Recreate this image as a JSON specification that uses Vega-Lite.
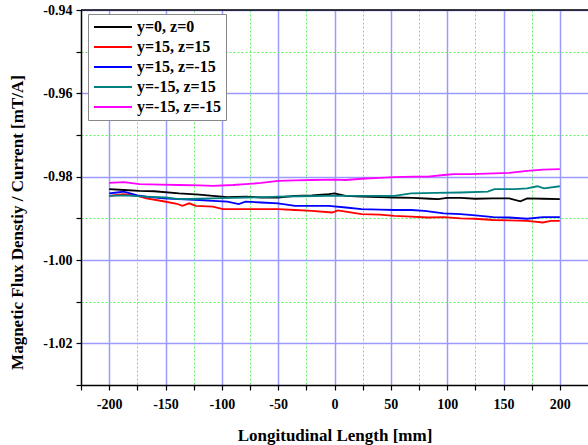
{
  "$schema": "https://vega.github.io/schema/vega-lite/v6.json",
  "width": 507,
  "height": 375,
  "autosize": {"type": "none"},
  "padding": {"left": 81, "top": 10, "right": 0, "bottom": 60},
  "background": "white",
  "config": {
    "view": {"stroke": null},
    "font": "Liberation Serif",
    "axis": {"labelFont": "Liberation Serif", "titleFont": "Liberation Serif"},
    "legend": {"labelFont": "Liberation Serif"}
  },
  "data": {"values": [
    {"s": "y=0, z=0", "x": -200, "v": -0.9830},
    {"s": "y=0, z=0", "x": -187, "v": -0.9832},
    {"s": "y=0, z=0", "x": -173, "v": -0.9834},
    {"s": "y=0, z=0", "x": -160, "v": -0.9835},
    {"s": "y=0, z=0", "x": -138, "v": -0.9840},
    {"s": "y=0, z=0", "x": -120, "v": -0.9843},
    {"s": "y=0, z=0", "x": -108, "v": -0.9846},
    {"s": "y=0, z=0", "x": -95, "v": -0.9849},
    {"s": "y=0, z=0", "x": -79, "v": -0.9848},
    {"s": "y=0, z=0", "x": -65, "v": -0.9850},
    {"s": "y=0, z=0", "x": -50, "v": -0.9850},
    {"s": "y=0, z=0", "x": -35, "v": -0.9846},
    {"s": "y=0, z=0", "x": -20, "v": -0.9845},
    {"s": "y=0, z=0", "x": -5, "v": -0.9842},
    {"s": "y=0, z=0", "x": 0, "v": -0.9840},
    {"s": "y=0, z=0", "x": 10, "v": -0.9846},
    {"s": "y=0, z=0", "x": 24, "v": -0.9848},
    {"s": "y=0, z=0", "x": 40, "v": -0.9849},
    {"s": "y=0, z=0", "x": 53, "v": -0.9850},
    {"s": "y=0, z=0", "x": 70, "v": -0.9851},
    {"s": "y=0, z=0", "x": 85, "v": -0.9853},
    {"s": "y=0, z=0", "x": 92, "v": -0.9854},
    {"s": "y=0, z=0", "x": 100, "v": -0.9851},
    {"s": "y=0, z=0", "x": 112, "v": -0.9851},
    {"s": "y=0, z=0", "x": 125, "v": -0.9853},
    {"s": "y=0, z=0", "x": 141, "v": -0.9852},
    {"s": "y=0, z=0", "x": 155, "v": -0.9852},
    {"s": "y=0, z=0", "x": 165, "v": -0.9859},
    {"s": "y=0, z=0", "x": 171, "v": -0.9852},
    {"s": "y=0, z=0", "x": 185, "v": -0.9853},
    {"s": "y=0, z=0", "x": 200, "v": -0.9854},

    {"s": "y=15, z=15", "x": -200, "v": -0.9846},
    {"s": "y=15, z=15", "x": -193, "v": -0.9844},
    {"s": "y=15, z=15", "x": -187, "v": -0.9842},
    {"s": "y=15, z=15", "x": -175, "v": -0.9846},
    {"s": "y=15, z=15", "x": -167, "v": -0.9852},
    {"s": "y=15, z=15", "x": -152, "v": -0.9859},
    {"s": "y=15, z=15", "x": -140, "v": -0.9865},
    {"s": "y=15, z=15", "x": -135, "v": -0.9870},
    {"s": "y=15, z=15", "x": -129, "v": -0.9864},
    {"s": "y=15, z=15", "x": -123, "v": -0.9870},
    {"s": "y=15, z=15", "x": -108, "v": -0.9872},
    {"s": "y=15, z=15", "x": -99, "v": -0.9878},
    {"s": "y=15, z=15", "x": -85, "v": -0.9878},
    {"s": "y=15, z=15", "x": -65, "v": -0.9878},
    {"s": "y=15, z=15", "x": -50, "v": -0.9878},
    {"s": "y=15, z=15", "x": -35, "v": -0.9880},
    {"s": "y=15, z=15", "x": -20, "v": -0.9882},
    {"s": "y=15, z=15", "x": -2, "v": -0.9886},
    {"s": "y=15, z=15", "x": 3, "v": -0.9881},
    {"s": "y=15, z=15", "x": 10, "v": -0.9884},
    {"s": "y=15, z=15", "x": 24, "v": -0.9890},
    {"s": "y=15, z=15", "x": 40, "v": -0.9891},
    {"s": "y=15, z=15", "x": 53, "v": -0.9894},
    {"s": "y=15, z=15", "x": 68, "v": -0.9896},
    {"s": "y=15, z=15", "x": 83, "v": -0.9898},
    {"s": "y=15, z=15", "x": 97, "v": -0.9897},
    {"s": "y=15, z=15", "x": 112, "v": -0.9900},
    {"s": "y=15, z=15", "x": 125, "v": -0.9901},
    {"s": "y=15, z=15", "x": 141, "v": -0.9904},
    {"s": "y=15, z=15", "x": 155, "v": -0.9905},
    {"s": "y=15, z=15", "x": 171, "v": -0.9906},
    {"s": "y=15, z=15", "x": 185, "v": -0.9910},
    {"s": "y=15, z=15", "x": 192, "v": -0.9906},
    {"s": "y=15, z=15", "x": 200, "v": -0.9906},

    {"s": "y=15, z=-15", "x": -200, "v": -0.9840},
    {"s": "y=15, z=-15", "x": -193, "v": -0.9838},
    {"s": "y=15, z=-15", "x": -187, "v": -0.9836},
    {"s": "y=15, z=-15", "x": -175, "v": -0.9845},
    {"s": "y=15, z=-15", "x": -167, "v": -0.9848},
    {"s": "y=15, z=-15", "x": -152, "v": -0.9852},
    {"s": "y=15, z=-15", "x": -138, "v": -0.9854},
    {"s": "y=15, z=-15", "x": -120, "v": -0.9856},
    {"s": "y=15, z=-15", "x": -108, "v": -0.9858},
    {"s": "y=15, z=-15", "x": -95, "v": -0.9860},
    {"s": "y=15, z=-15", "x": -85, "v": -0.9866},
    {"s": "y=15, z=-15", "x": -79, "v": -0.9860},
    {"s": "y=15, z=-15", "x": -65, "v": -0.9862},
    {"s": "y=15, z=-15", "x": -50, "v": -0.9864},
    {"s": "y=15, z=-15", "x": -35, "v": -0.9870},
    {"s": "y=15, z=-15", "x": -20, "v": -0.9870},
    {"s": "y=15, z=-15", "x": -5, "v": -0.9870},
    {"s": "y=15, z=-15", "x": 10, "v": -0.9874},
    {"s": "y=15, z=-15", "x": 24, "v": -0.9878},
    {"s": "y=15, z=-15", "x": 40, "v": -0.9879},
    {"s": "y=15, z=-15", "x": 53, "v": -0.9880},
    {"s": "y=15, z=-15", "x": 68, "v": -0.9880},
    {"s": "y=15, z=-15", "x": 80, "v": -0.9882},
    {"s": "y=15, z=-15", "x": 97, "v": -0.9888},
    {"s": "y=15, z=-15", "x": 112, "v": -0.9890},
    {"s": "y=15, z=-15", "x": 125, "v": -0.9893},
    {"s": "y=15, z=-15", "x": 141, "v": -0.9897},
    {"s": "y=15, z=-15", "x": 155, "v": -0.9898},
    {"s": "y=15, z=-15", "x": 171, "v": -0.9901},
    {"s": "y=15, z=-15", "x": 185, "v": -0.9897},
    {"s": "y=15, z=-15", "x": 200, "v": -0.9897},

    {"s": "y=-15, z=15", "x": -200, "v": -0.9846},
    {"s": "y=-15, z=15", "x": -187, "v": -0.9845},
    {"s": "y=-15, z=15", "x": -167, "v": -0.9848},
    {"s": "y=-15, z=15", "x": -150, "v": -0.9850},
    {"s": "y=-15, z=15", "x": -138, "v": -0.9854},
    {"s": "y=-15, z=15", "x": -120, "v": -0.9853},
    {"s": "y=-15, z=15", "x": -108, "v": -0.9852},
    {"s": "y=-15, z=15", "x": -90, "v": -0.9851},
    {"s": "y=-15, z=15", "x": -79, "v": -0.9850},
    {"s": "y=-15, z=15", "x": -60, "v": -0.9849},
    {"s": "y=-15, z=15", "x": -50, "v": -0.9848},
    {"s": "y=-15, z=15", "x": -30, "v": -0.9847},
    {"s": "y=-15, z=15", "x": -5, "v": -0.9846},
    {"s": "y=-15, z=15", "x": 24, "v": -0.9846},
    {"s": "y=-15, z=15", "x": 53, "v": -0.9846},
    {"s": "y=-15, z=15", "x": 68, "v": -0.9840},
    {"s": "y=-15, z=15", "x": 90, "v": -0.9839},
    {"s": "y=-15, z=15", "x": 112, "v": -0.9838},
    {"s": "y=-15, z=15", "x": 136, "v": -0.9836},
    {"s": "y=-15, z=15", "x": 142, "v": -0.9830},
    {"s": "y=-15, z=15", "x": 160, "v": -0.9830},
    {"s": "y=-15, z=15", "x": 171, "v": -0.9828},
    {"s": "y=-15, z=15", "x": 180, "v": -0.9823},
    {"s": "y=-15, z=15", "x": 186, "v": -0.9828},
    {"s": "y=-15, z=15", "x": 200, "v": -0.9823},

    {"s": "y=-15, z=-15", "x": -200, "v": -0.9815},
    {"s": "y=-15, z=-15", "x": -187, "v": -0.9813},
    {"s": "y=-15, z=-15", "x": -173, "v": -0.9818},
    {"s": "y=-15, z=-15", "x": -155, "v": -0.9819},
    {"s": "y=-15, z=-15", "x": -138, "v": -0.9820},
    {"s": "y=-15, z=-15", "x": -120, "v": -0.9821},
    {"s": "y=-15, z=-15", "x": -108, "v": -0.9822},
    {"s": "y=-15, z=-15", "x": -90, "v": -0.9820},
    {"s": "y=-15, z=-15", "x": -79, "v": -0.9818},
    {"s": "y=-15, z=-15", "x": -65, "v": -0.9815},
    {"s": "y=-15, z=-15", "x": -50, "v": -0.9810},
    {"s": "y=-15, z=-15", "x": -35, "v": -0.9809},
    {"s": "y=-15, z=-15", "x": -20, "v": -0.9808},
    {"s": "y=-15, z=-15", "x": 0, "v": -0.9807},
    {"s": "y=-15, z=-15", "x": 10, "v": -0.9808},
    {"s": "y=-15, z=-15", "x": 24, "v": -0.9805},
    {"s": "y=-15, z=-15", "x": 40, "v": -0.9803},
    {"s": "y=-15, z=-15", "x": 53, "v": -0.9801},
    {"s": "y=-15, z=-15", "x": 70, "v": -0.9800},
    {"s": "y=-15, z=-15", "x": 83, "v": -0.9800},
    {"s": "y=-15, z=-15", "x": 97, "v": -0.9796},
    {"s": "y=-15, z=-15", "x": 106, "v": -0.9794},
    {"s": "y=-15, z=-15", "x": 120, "v": -0.9794},
    {"s": "y=-15, z=-15", "x": 142, "v": -0.9792},
    {"s": "y=-15, z=-15", "x": 155, "v": -0.9791},
    {"s": "y=-15, z=-15", "x": 171, "v": -0.9786},
    {"s": "y=-15, z=-15", "x": 185, "v": -0.9783},
    {"s": "y=-15, z=-15", "x": 200, "v": -0.9782}
  ]},
  "layer": [
    {
      "mark": {"type": "line", "strokeWidth": 1.8},
      "encoding": {
        "x": {
          "field": "x", "type": "quantitative",
          "scale": {"domain": [-225, 225], "nice": false, "zero": false},
          "axis": {
            "values": [-225, -200, -175, -150, -125, -100, -75, -50, -25, 0, 25, 50, 75, 100, 125, 150, 175, 200],
            "title": "Longitudinal Length [mm]",
            "labelExpr": "datum.value % 50 === 0 ? replace(format(datum.value, 'd'), '\u2212', '-') : ''",
            "grid": true,
            "gridColor": {"condition": {"test": "datum.value % 50 === 0", "value": "#9a9aff"}, "value": "#66ee66"},
            "gridDash": {"condition": {"test": "datum.value % 50 === 0", "value": []}, "value": [2, 2]},
            "gridWidth": {"condition": {"test": "datum.value % 50 === 0", "value": 1.5}, "value": 1},
            "domainColor": "black", "domainWidth": 1.5,
            "tickColor": "black", "tickSize": 5, "tickWidth": 1.2,
            "labelFont": "Liberation Serif", "labelFontWeight": "bold", "labelFontSize": 14, "labelColor": "black",
            "labelPadding": 7, "labelFlush": false,
            "titleFont": "Liberation Serif", "titleFontWeight": "bold", "titleFontSize": 17, "titleColor": "black",
            "titleY": 50, "titleBaseline": "middle"
          }
        },
        "y": {
          "field": "v", "type": "quantitative",
          "scale": {"domain": [-1.03, -0.94], "nice": false, "zero": false},
          "axis": {
            "values": [-1.03, -1.02, -1.01, -1.0, -0.99, -0.98, -0.97, -0.96, -0.95, -0.94],
            "title": "Magnetic Flux Denstiy / Current [mT/A]",
            "labelExpr": "round(datum.value * 100) % 2 === 0 ? replace(format(datum.value, '.2f'), '\u2212', '-') : ''",
            "grid": true,
            "gridColor": {"condition": {"test": "round(datum.value * 100) % 2 === 0", "value": "#9a9aff"}, "value": "#66ee66"},
            "gridDash": {"condition": {"test": "round(datum.value * 100) % 2 === 0", "value": []}, "value": [2, 2]},
            "gridWidth": {"condition": {"test": "round(datum.value * 100) % 2 === 0", "value": 1.5}, "value": 1},
            "domainColor": "black", "domainWidth": 1.5,
            "tickColor": "black", "tickSize": 5, "tickWidth": 1.2,
            "labelFont": "Liberation Serif", "labelFontWeight": "bold", "labelFontSize": 14, "labelColor": "black",
            "labelPadding": 4, "labelFlush": false,
            "titleFont": "Liberation Serif", "titleFontWeight": "bold", "titleFontSize": 17, "titleColor": "black",
            "titleX": -64, "titleY": 212, "titleAngle": -90, "titleAlign": "center", "titleBaseline": "middle"
          }
        },
        "color": {
          "field": "s", "type": "nominal",
          "scale": {
            "domain": ["y=0, z=0", "y=15, z=15", "y=15, z=-15", "y=-15, z=15", "y=-15, z=-15"],
            "range": ["#000000", "#ff0000", "#0000ff", "#008080", "#ff00ff"]
          },
          "legend": {
            "orient": "none", "legendX": 7, "legendY": 4,
            "title": null,
            "symbolType": "stroke", "symbolSize": 1444, "symbolStrokeWidth": 2,
            "clipHeight": 16,
            "labelFont": "Liberation Serif", "labelFontWeight": "bold", "labelFontSize": 16, "labelColor": "black",
            "labelOffset": 4, "labelLimit": 300,
            "fillColor": "white", "strokeColor": "#888888", "padding": 5, "rowPadding": 4
          }
        }
      }
    },
    {
      "data": {"values": [{}]},
      "mark": {"type": "rule", "color": "black", "strokeWidth": 1.5},
      "encoding": {"y": {"datum": -0.94}}
    }
  ]
}
